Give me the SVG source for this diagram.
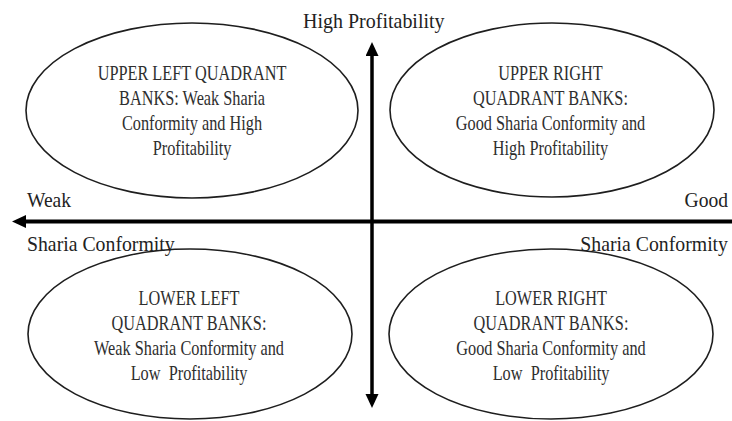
<svg xmlns="http://www.w3.org/2000/svg" width="732" height="421" viewBox="0 0 732 421">
  <style>
    .bg { fill: #ffffff; }
    .oval { fill: none; stroke: #1e1e1e; stroke-width: 1.6; }
    .axis { stroke: #000000; fill: none; }
    .inner { font-family: "Liberation Serif", "Times New Roman", serif; font-size: 20.5px; fill: #2e2e2e; text-anchor: middle; white-space: pre; }
    .label { font-family: "Liberation Serif", "Times New Roman", serif; font-size: 21.5px; fill: #222222; }
    .title { font-family: "Liberation Serif", "Times New Roman", serif; font-size: 21.5px; fill: #222222; text-anchor: middle; }
  </style>
  <defs>
    <marker id="head" markerUnits="userSpaceOnUse" markerWidth="15" markerHeight="14" refX="3" refY="6.5" orient="auto-start-reverse">
      <path d="M0,0 L14,6.5 L0,13 z" fill="#000000"/>
    </marker>
  </defs>

  <rect class="bg" x="0" y="0" width="732" height="421"/>

  <!-- axes -->
  <g id="connectors">
    <line class="axis" x1="732" y1="221.5" x2="23" y2="221.5" stroke-width="4" marker-end="url(#head)"/>
    <line class="axis" x1="372" y1="53" x2="372" y2="397" stroke-width="3.5" marker-start="url(#head)" marker-end="url(#head)"/>
  </g>

  <!-- axis labels -->
  <g id="axis-labels">
    <text class="title" transform="translate(373.8,28) scale(0.93,1)">High Profitability</text>
    <text class="label" transform="translate(27,206.5) scale(0.91,1)">Weak</text>
    <text class="label" transform="translate(27,250.5) scale(0.92,1)">Sharia Conformity</text>
    <text class="label" text-anchor="end" transform="translate(728,206.5) scale(0.91,1)">Good</text>
    <text class="label" text-anchor="end" transform="translate(728,250.5) scale(0.92,1)">Sharia Conformity</text>
  </g>

  <g id="upper-left">
    <ellipse class="oval" cx="192" cy="110.5" rx="166" ry="87.5"/>
    <text class="inner" transform="translate(192,80) scale(0.795,1)">UPPER LEFT QUADRANT</text>
    <text class="inner" transform="translate(192,104.5) scale(0.795,1)">BANKS: Weak Sharia</text>
    <text class="inner" transform="translate(192,129.5) scale(0.795,1)">Conformity and High</text>
    <text class="inner" transform="translate(192,154.5) scale(0.795,1)">Profitability</text>
  </g>

  <g id="upper-right">
    <ellipse class="oval" cx="552" cy="110" rx="162" ry="87"/>
    <text class="inner" transform="translate(550.5,80) scale(0.795,1)">UPPER RIGHT</text>
    <text class="inner" transform="translate(550.5,104.5) scale(0.795,1)">QUADRANT BANKS:</text>
    <text class="inner" transform="translate(550.5,129.5) scale(0.795,1)">Good Sharia Conformity and</text>
    <text class="inner" transform="translate(550.5,154.5) scale(0.795,1)">High Profitability</text>
  </g>

  <g id="lower-left">
    <ellipse class="oval" cx="190" cy="334" rx="162" ry="85"/>
    <text class="inner" transform="translate(189,305) scale(0.795,1)">LOWER LEFT</text>
    <text class="inner" transform="translate(189,330) scale(0.795,1)">QUADRANT BANKS:</text>
    <text class="inner" transform="translate(189,355) scale(0.795,1)">Weak Sharia Conformity and</text>
    <text class="inner" transform="translate(189,380) scale(0.795,1)">Low  Profitability</text>
  </g>

  <g id="lower-right">
    <ellipse class="oval" cx="551" cy="334" rx="162" ry="85"/>
    <text class="inner" transform="translate(551,305) scale(0.795,1)">LOWER RIGHT</text>
    <text class="inner" transform="translate(551,330) scale(0.795,1)">QUADRANT BANKS:</text>
    <text class="inner" transform="translate(551,355) scale(0.795,1)">Good Sharia Conformity and</text>
    <text class="inner" transform="translate(551,380) scale(0.795,1)">Low  Profitability</text>
  </g>
</svg>
